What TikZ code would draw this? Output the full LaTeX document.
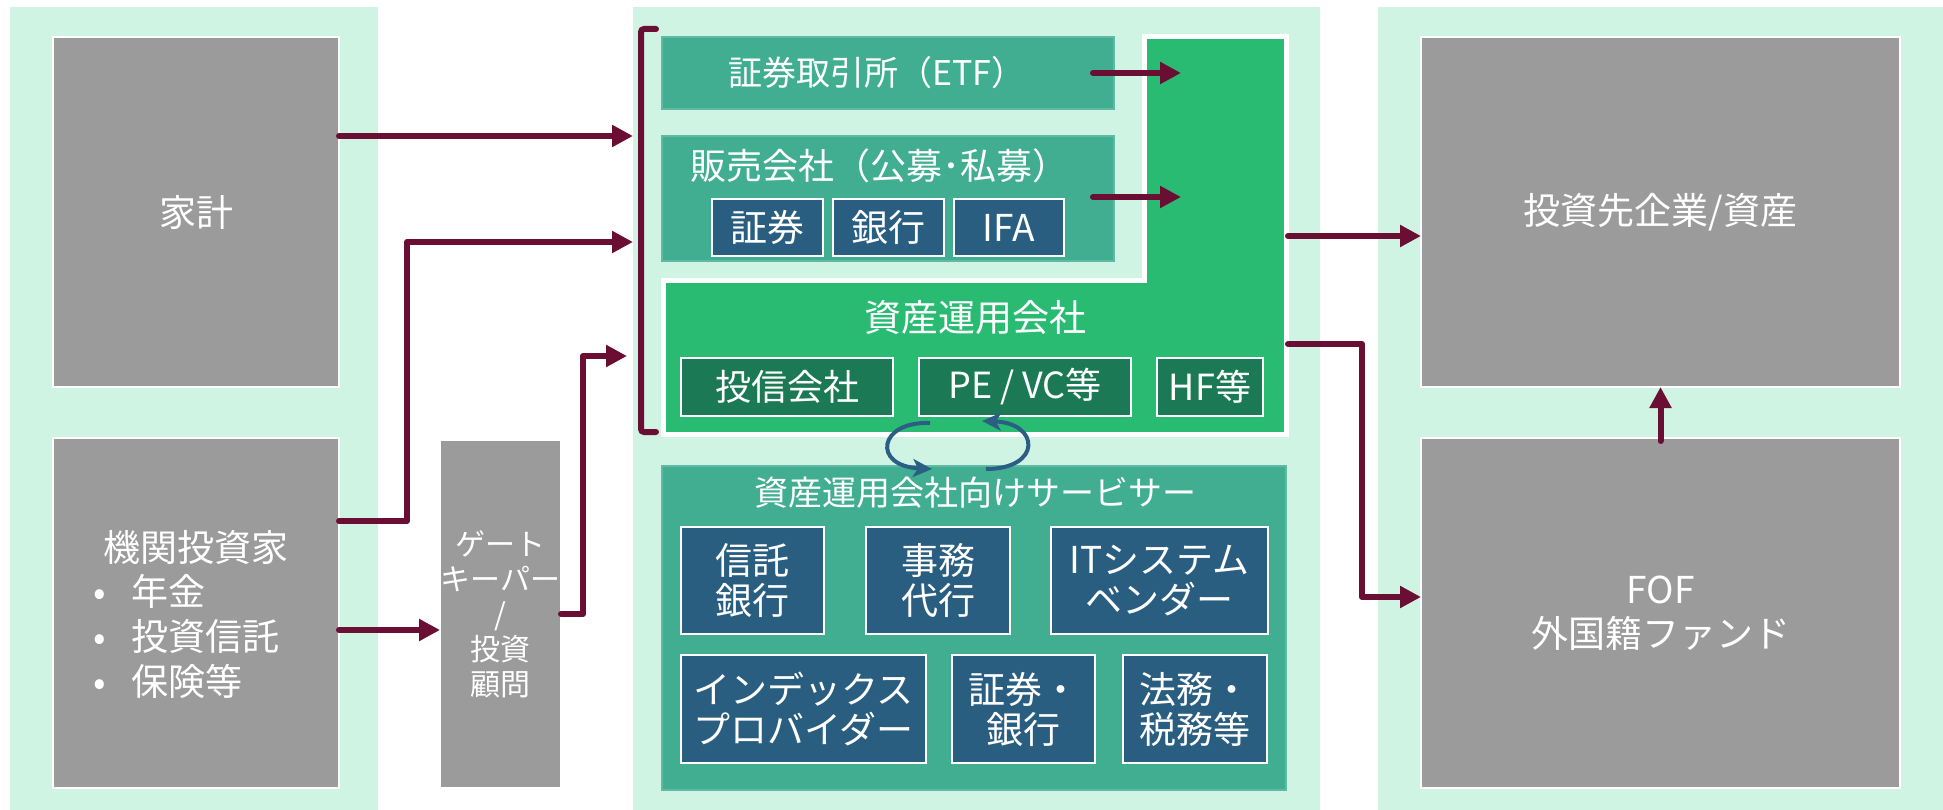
\documentclass[tikz,border=0pt]{standalone}
\usepackage{fontspec}
\setmainfont{Noto Sans CJK JP}
\usetikzlibrary{arrows.meta}
\definecolor{mint}{HTML}{D0F4E3}
\definecolor{boxgray}{HTML}{9B9B9B}
\definecolor{tealbx}{HTML}{41AE92}
\definecolor{greenL}{HTML}{2ABB73}
\definecolor{navybx}{HTML}{2A5E80}
\definecolor{dgreenbx}{HTML}{1B7A55}
\definecolor{maroonar}{HTML}{6A0E33}
\definecolor{cycblue}{HTML}{2B5E84}
\newcommand\myfs[2]{\fontsize{#1}{#2}\selectfont}
\tikzset{
  basebox/.style={inner sep=0pt, outer sep=0pt, text=white, align=center},
  graybox/.style={basebox, fill=boxgray, draw=white, line width=1.5pt, font=\myfs{37}{44}},
  tealbox/.style={basebox, fill=tealbx, draw=tealbx!85!white, line width=1.5pt},
  navybox/.style={basebox, fill=navybx, draw=white, line width=2pt, font=\myfs{37}{40}},
  dgreenbox/.style={basebox, fill=dgreenbx, draw=white, line width=2pt, font=\myfs{36}{40}},
  panel/.style={fill=mint},
  txt/.style={text=white, inner sep=0pt, align=center},
  flow/.style={draw=maroonar, line width=6pt, line cap=round, line join=round, -{Triangle[length=21pt,width=21pt]}},
  cyc/.style={draw=cycblue, line width=4pt, -{Stealth[length=19pt,width=18pt,inset=5pt]}},
  bracketln/.style={draw=maroonar, line width=6pt, line cap=round, rounded corners=3pt}
}
\begin{document}
\begin{tikzpicture}[x=1pt,y=-1pt]
\useasboundingbox (0,0) rectangle (1943,810);
% panels
\fill[panel] (10,7) rectangle (378,810);
\fill[panel] (633,7) rectangle (1320,810);
\fill[panel] (1378,7) rectangle (1943,810);

% left column
\node[graybox, minimum width=286pt, minimum height=350pt] (kakei) at (196,212) {家計};
\node[graybox, minimum width=286pt, minimum height=350pt] (kikan) at (196,613) {};
\node[txt, font=\myfs{37}{44}] (kikanT) at (196,547) {機関投資家};
\node[txt, font=\myfs{37}{45}, align=left, anchor=west] (kikanL) at (100,636)
  {\makebox[0pt]{•}\hspace{31pt}年金\\\makebox[0pt]{•}\hspace{31pt}投資信託\\\makebox[0pt]{•}\hspace{31pt}保険等};
\node[graybox, minimum width=121pt, minimum height=348pt, font=\myfs{30}{35}] (gate) at (500.5,614)
  {ゲート\\キーパー\\/\\投資\\顧問};

% middle column
\node[tealbox, minimum width=452pt, minimum height=72pt] (etf) at (888,73) {};
\node[txt, font=\myfs{34}{40}] (etfT) at (877,73) {証券取引所（ETF）};
\node[tealbox, minimum width=452pt, minimum height=125pt] (hanbai) at (888,198.5) {};
\node[txt, font=\myfs{36}{40}] (hanbaiT) at (879,166) {販売会社（公募･私募）};
\node[navybox, minimum width=111pt, minimum height=57pt] (shoken) at (767.5,227.5) {証券};
\node[navybox, minimum width=111pt, minimum height=57pt] (ginko) at (888.5,227.5) {銀行};
\node[navybox, minimum width=110pt, minimum height=57pt] (ifa) at (1009,227.5) {IFA};

\path[fill=greenL, draw=white, line width=5pt] (663.5,280.5) -- (1144.5,280.5) -- (1144.5,36.5)
  -- (1286.5,36.5) -- (1286.5,434.5) -- (663.5,434.5) -- cycle;
\node[txt, font=\myfs{37}{40}] (amT) at (975,318) {資産運用会社};
\node[dgreenbox, minimum width=212pt, minimum height=58pt] (toshin) at (787,387) {投信会社};
\node[dgreenbox, minimum width=212pt, minimum height=58pt] (pevc) at (1025,387) {PE / VC等};
\node[dgreenbox, minimum width=106pt, minimum height=58pt] (hf) at (1210,387) {HF等};

\node[tealbox, minimum width=624pt, minimum height=324pt] (serv) at (974,628) {};
\node[txt, font=\myfs{34}{40}] (servT) at (975,493) {資産運用会社向けサービサー};
\node[navybox, minimum width=143pt, minimum height=107pt] (shintaku) at (752.5,580.5) {信託\\銀行};
\node[navybox, minimum width=144pt, minimum height=107pt] (jimu) at (938,580.5) {事務\\代行};
\node[navybox, minimum width=217pt, minimum height=107pt] (it) at (1159.5,580.5) {ITシステム\\ベンダー};
\node[navybox, minimum width=245pt, minimum height=108pt] (index) at (803.5,709) {インデックス\\プロバイダー};
\node[navybox, minimum width=143pt, minimum height=108pt] (shoginko) at (1023.5,709) {証券・\\銀行};
\node[navybox, minimum width=144pt, minimum height=108pt] (homu) at (1195,709) {法務・\\税務等};

% right column
\node[graybox, minimum width=479pt, minimum height=350pt] (saki) at (1660.5,212) {投資先企業/資産};
\node[graybox, minimum width=479pt, minimum height=350pt] (fof) at (1660.5,613) {FOF\\外国籍ファンド};

% bracket and coordinates
\draw[bracketln] (656,29) -- (641,29) -- (641,432) -- (656,432);
\coordinate (in1) at (633,136);
\coordinate (in2) at (633,242);
\coordinate (in3) at (627,356);
\coordinate (amIn1) at (1181,73);
\coordinate (amIn2) at (1181,197);
\coordinate (amOut1) at (1288,236);
\coordinate (amOut2) at (1288,344);

% connectors
\draw[flow] (kakei.east |- in1) -- (in1);
\draw[flow] (339,521) -- (407,521) -- (407,242) -- (in2);
\draw[flow] (339,630) -- (gate.west |- 0,630);
\draw[flow] (561,614) -- (583,614) -- (583,356) -- (in3);
\draw[flow] (1093,73) -- (amIn1);
\draw[flow] (1093,197) -- (amIn2);
\draw[flow] (amOut1) -- (saki.west |- amOut1);
\draw[flow] (amOut2) -- (1362,344) -- (1362,597) -- (fof.west |- 0,597);
\draw[flow] (1660.5,441) -- (saki.south);

% cycle arrows
\draw[cyc] (930,423) .. controls (878,421) and (872,466) .. (932,469);
\draw[cyc] (986,469) .. controls (1042,469) and (1040,423) .. (982,421);
\end{tikzpicture}
\end{document}
